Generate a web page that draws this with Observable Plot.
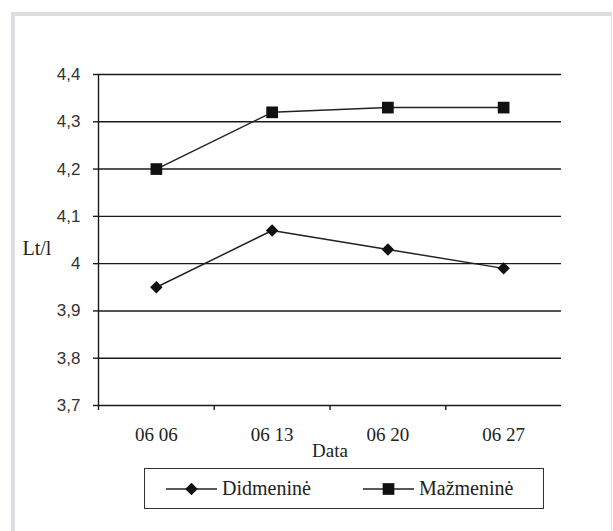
<!DOCTYPE html>
<html>
<head>
<meta charset="utf-8">
<script src="https://cdn.jsdelivr.net/npm/d3@7"></script>
<script src="https://cdn.jsdelivr.net/npm/@observablehq/plot@0.6"></script>
<style>
  html, body { margin: 0; padding: 0; background: #fff; width: 613px; height: 531px; overflow: hidden; }
  #frame { position: absolute; left: 11px; top: 12px; width: 596px; height: 560px;
           border-left: 4px solid #dcdde0; border-top: 4px solid #dcdde0; border-right: 1px solid #dcdde0; }
  #chart { position: absolute; left: 0; top: 0; }
  #legend { position: absolute; left: 144px; top: 468px; width: 398px; height: 39px;
            border: 1.5px solid #333; font-family: "Liberation Serif", serif; font-size: 20px; color: #222; }
  .item { position: absolute; top: 0; height: 39px; display: flex; align-items: center; }
  .item svg { display: block; margin-right: 5px; }
</style>
</head>
<body>
<div id="frame"></div>
<div id="chart"></div>
<div id="legend"></div>
<script>
const dates = ["06 06", "06 13", "06 20", "06 27"];
const didmenine = [3.95, 4.07, 4.03, 3.99];
const mazmenine = [4.20, 4.32, 4.33, 4.33];
const yTicks = [3.7, 3.8, 3.9, 4.0, 4.1, 4.2, 4.3, 4.4];
const seriesNames = ["Didmeninė", "Mažmeninė"];
const yLabel = "Lt/l";
const xLabel = "Data";

const didData = dates.map((d, i) => ({pos: i + 0.5, value: didmenine[i]}));
const mazData = dates.map((d, i) => ({pos: i + 0.5, value: mazmenine[i]}));

const fmt = d => String(+d.toFixed(1)).replace(".", ",");

const chart = Plot.plot({
  width: 613,
  height: 460,
  marginLeft: 98,
  marginRight: 52,
  marginTop: 74,
  marginBottom: 55,
  style: {background: "transparent", color: "#222"},
  x: {domain: [0, dates.length]},
  y: {domain: [3.7, 4.4]},
  marks: [
    Plot.ruleY(yTicks, {stroke: "#1a1a1a", strokeWidth: 1.4}),
    Plot.ruleX([0], {y1: 3.7, y2: 4.4, stroke: "#1a1a1a", strokeWidth: 1.4}),
    Plot.axisY({ticks: yTicks, tickSize: 5, tickPadding: 13, tickFormat: fmt, label: null,
                fontSize: 17, fontFamily: "Liberation Sans, Arial, sans-serif", fill: "#333", stroke: "#1a1a1a", strokeWidth: 1.4}),
    Plot.axisX({ticks: dates.map((d, i) => i), tickSize: 5, tickFormat: () => "", label: null, stroke: "#1a1a1a", strokeWidth: 1.4}),
    Plot.axisX({ticks: dates.map((d, i) => i + 0.5), tickSize: 0, tickPadding: 22,
                tickFormat: v => dates[Math.floor(v)], label: null,
                fontSize: 19, fontFamily: "Liberation Serif, Times New Roman, serif", fill: "#222"}),
    Plot.text([xLabel], {frameAnchor: "bottom", dy: 51, fontSize: 19,
                fontFamily: "Liberation Serif, Times New Roman, serif", fill: "#222"}),
    Plot.text([yLabel], {frameAnchor: "left", dx: -76, dy: 9, textAnchor: "start", fontSize: 20,
                fontFamily: "Liberation Serif, Times New Roman, serif", fill: "#222"}),
    Plot.line(mazData, {x: "pos", y: "value", stroke: "#222", strokeWidth: 1.5}),
    Plot.line(didData, {x: "pos", y: "value", stroke: "#222", strokeWidth: 1.5}),
    Plot.dot(mazData, {x: "pos", y: "value", symbol: "square", r: 6.6, fill: "#111", stroke: "none"}),
    Plot.dot(didData, {x: "pos", y: "value", symbol: "diamond2", r: 5.6, fill: "#111", stroke: "none"})
  ]
});
document.getElementById("chart").appendChild(chart);

// legend
const legend = document.getElementById("legend");
const items = [
  {name: seriesNames[0], symbol: d3.symbolDiamond2, size: Math.PI * 5.6 * 5.6, left: 21},
  {name: seriesNames[1], symbol: d3.symbolSquare, size: Math.PI * 6.6 * 6.6, left: 218}
];
for (const it of items) {
  const div = document.createElement("div");
  div.className = "item";
  div.style.left = it.left + "px";
  const svg = d3.create("svg").attr("width", 51).attr("height", 16);
  svg.append("line").attr("x1", 0).attr("x2", 51).attr("y1", 8).attr("y2", 8)
     .attr("stroke", "#222").attr("stroke-width", 1.5);
  svg.append("path").attr("d", d3.symbol(it.symbol, it.size)()).attr("transform", "translate(25.5,8)").attr("fill", "#111");
  div.appendChild(svg.node());
  const span = document.createElement("span");
  span.textContent = it.name;
  div.appendChild(span);
  legend.appendChild(div);
}
</script>
</body>
</html>
